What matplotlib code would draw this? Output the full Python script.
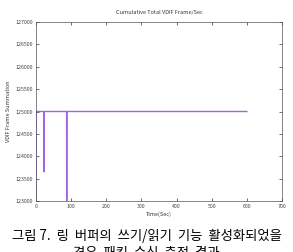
import matplotlib
matplotlib.use('Agg')
import matplotlib.pyplot as plt

# data
times = [0, 0.5, 1, 22, 22.5, 23, 87, 87.5, 88, 600]
frames = [122800, 125000, 125000, 125000, 123650, 125000, 125000, 122800, 125000, 125000]
xticks = [0, 100, 200, 300, 400, 500, 600, 700]
yticks = [123000, 123500, 124000, 124500, 125000, 125500, 126000, 126500, 127000]
caption = '그림 7.  링  버퍼의  쓰기/읽기  기능  활성화되었을\n경우  패킷  수신  측정  결과'

plt.rcParams['font.family'] = ['Noto Sans CJK KR', 'DejaVu Sans']

fig = plt.figure(figsize=(2.93, 2.52), dpi=100)
ax = fig.add_axes([36/293, 1-201/252, 246/293, 179/252])
ax.plot(times, frames, color='#a862dc', lw=1.0)
ax.set_xlim(0, 700)
ax.set_ylim(123000, 127000)
ax.set_xticks(xticks)
ax.set_yticks(yticks)
ax.tick_params(direction='in', labelsize=3.8, labelcolor='#444444', length=2, width=0.4, top=True, right=True, pad=2)
for s in ax.spines.values():
    s.set_linewidth(0.5)
    s.set_color('#555555')
ax.set_title('Cumulative Total VDIF Frame/Sec', fontsize=4, pad=6, color='#333333')
ax.set_xlabel('Time(Sec)', fontsize=4, labelpad=2, color='#333333')
ax.set_ylabel('VDIF Frame Summation', fontsize=4, labelpad=3, color='#333333')

fig.text(0.5, 1-229/252, caption, fontsize=9.6, ha='center', va='top', linespacing=1.3)

fig.savefig('out.png', dpi=100)
